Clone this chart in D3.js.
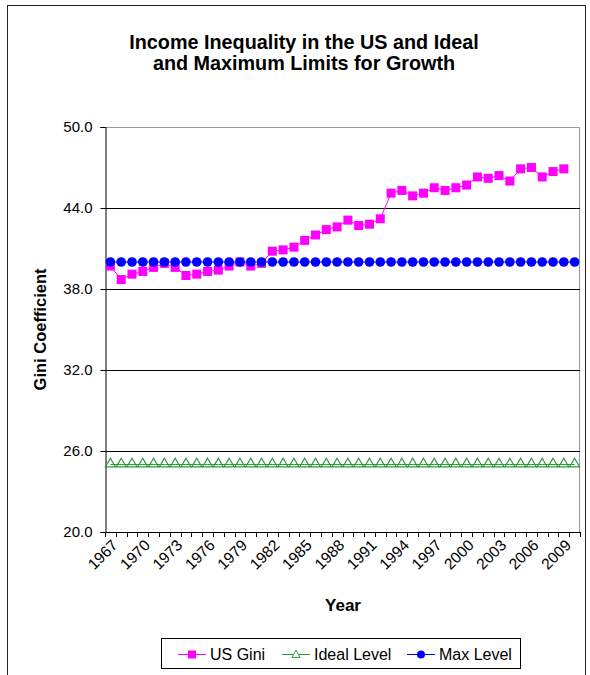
<!DOCTYPE html>
<html>
<head>
<meta charset="utf-8">
<script src="https://cdn.jsdelivr.net/npm/d3@7/dist/d3.min.js"></script>
<style>
  html, body { margin: 0; padding: 0; background: #fff; }
  svg { display: block; font-family: "Liberation Sans", Arial, sans-serif; }
</style>
</head>
<body>
<svg id="chart" width="590" height="675"></svg>
<script>
// Years on the category axis
const years = d3.range(1967, 2011);
// Household Gini index (x100); no value for the final year
const usGini = [
  39.7, 38.7, 39.1, 39.3, 39.6, 39.9, 39.6, 39.0, 39.1, 39.3,
  39.4, 39.7, 40.0, 39.7, 39.9, 40.8, 40.9, 41.1, 41.6, 42.0,
  42.4, 42.6, 43.1, 42.7, 42.8, 43.2, 45.1, 45.3, 44.9, 45.1,
  45.5, 45.3, 45.5, 45.7, 46.3, 46.2, 46.4, 46.0, 46.9, 47.0,
  46.3, 46.7, 46.9, null
];
const idealLevel = years.map(() => 25);
const maxLevel = years.map(() => 40);
const yTicks = [20, 26, 32, 38, 44, 50];
const labelYears = years.filter((y, i) => i % 3 === 0);

const svg = d3.select("#chart");
const plotL = 105, plotR = 580, plotT = 127, plotB = 532;

// Chart area border
svg.append("rect")
  .attr("x", 7.5).attr("y", 5.5).attr("width", 578).attr("height", 690)
  .attr("fill", "none").attr("stroke", "#222").attr("stroke-width", 1);

// Title
const title = svg.append("text")
  .attr("text-anchor", "middle").attr("font-weight", "bold")
  .attr("font-size", 19.8).attr("fill", "#000");
title.append("tspan").attr("x", 304).attr("y", 49).text("Income Inequality in the US and Ideal");
title.append("tspan").attr("x", 304).attr("y", 70).text("and Maximum Limits for Growth");

const x = d3.scaleBand().domain(years).range([plotL, plotR]).padding(0);
const y = d3.scaleLinear().domain([20, 50]).range([plotB, plotT]);
const cx = d => x(d) + x.bandwidth() / 2;

// Plot area border (top and right)
svg.append("path")
  .attr("d", `M${plotL},${plotT + 0.5}H${plotR - 0.5}V${plotB}`)
  .attr("fill", "none").attr("stroke", "#999").attr("stroke-width", 1);

// Horizontal gridlines
svg.append("g").selectAll("line")
  .data(yTicks.filter(t => t !== 20 && t !== 50))
  .join("line")
  .attr("x1", plotL).attr("x2", plotR)
  .attr("y1", d => Math.round(y(d)) + 0.5).attr("y2", d => Math.round(y(d)) + 0.5)
  .attr("stroke", "#000").attr("stroke-width", 1);

// Y axis
const yAxis = svg.append("g")
  .attr("transform", `translate(${plotL + 0.5},0)`)
  .call(d3.axisLeft(y).tickValues(yTicks).tickFormat(d3.format(".1f")).tickSize(5).tickPadding(8));
yAxis.select(".domain").attr("stroke", "#000");
yAxis.selectAll("text").attr("font-size", 15).attr("fill", "#000")
  .attr("font-family", "Liberation Sans, Arial, sans-serif");

// X axis line and category boundary ticks
const xg = svg.append("g");
xg.append("line").attr("x1", plotL).attr("x2", plotR)
  .attr("y1", plotB + 0.5).attr("y2", plotB + 0.5).attr("stroke", "#000");
xg.selectAll("line.tick")
  .data(years.concat([null]))
  .join("line").attr("class", "tick")
  .attr("x1", (d, i) => Math.round(plotL + i * x.step()) + 0.5)
  .attr("x2", (d, i) => Math.round(plotL + i * x.step()) + 0.5)
  .attr("y1", plotB).attr("y2", plotB + 5)
  .attr("stroke", "#000");
xg.selectAll("text.lbl")
  .data(labelYears)
  .join("text").attr("class", "lbl")
  .attr("transform", d => `translate(${cx(d)},${plotB + 6}) rotate(-45)`)
  .attr("text-anchor", "end").attr("dy", "0.75em")
  .attr("font-size", 15.5).attr("fill", "#000")
  .text(d => d);

// Axis titles
svg.append("text").attr("x", 343).attr("y", 611)
  .attr("text-anchor", "middle").attr("font-weight", "bold").attr("font-size", 17)
  .text("Year");
svg.append("text")
  .attr("transform", `translate(46,${(plotT + plotB) / 2}) rotate(-90)`)
  .attr("text-anchor", "middle").attr("font-weight", "bold").attr("font-size", 16.5)
  .text("Gini Coefficient");

// Series
const pink = "#FF00FF", green = "#2E9B3A", blue = "#0000FF";
const lineGen = vals => d3.line()
  .defined(d => d[1] != null)
  .x(d => cx(d[0])).y(d => y(d[1]))(years.map((yr, i) => [yr, vals[i]]));

// Ideal level
svg.append("path").attr("d", lineGen(idealLevel))
  .attr("fill", "none").attr("stroke", green).attr("stroke-width", 1);
const tri = d3.symbol().type(d3.symbolTriangle).size(44);
svg.append("g").selectAll("path")
  .data(years.map((yr, i) => [yr, idealLevel[i]]))
  .join("path")
  .attr("d", tri)
  .attr("transform", d => `translate(${cx(d[0])},${y(d[1]) - 0.5})`)
  .attr("fill", "none").attr("stroke", green).attr("stroke-width", 1.2);

// US Gini
svg.append("path").attr("d", lineGen(usGini))
  .attr("fill", "none").attr("stroke", pink).attr("stroke-width", 1);
svg.append("g").selectAll("rect")
  .data(years.map((yr, i) => [yr, usGini[i]]).filter(d => d[1] != null))
  .join("rect")
  .attr("x", d => cx(d[0]) - 4.5).attr("y", d => y(d[1]) - 4.5)
  .attr("width", 9).attr("height", 9)
  .attr("fill", pink);

// Max level
svg.append("path").attr("d", lineGen(maxLevel))
  .attr("fill", "none").attr("stroke", blue).attr("stroke-width", 1);
svg.append("g").selectAll("circle")
  .data(years.map((yr, i) => [yr, maxLevel[i]]))
  .join("circle")
  .attr("cx", d => cx(d[0])).attr("cy", d => y(d[1]))
  .attr("r", 4.8).attr("fill", blue);

// Legend
const lg = svg.append("g");
lg.append("rect").attr("x", 161.5).attr("y", 638.5).attr("width", 359).attr("height", 30)
  .attr("fill", "#fff").attr("stroke", "#000");
const items = [
  { name: "US Gini", color: pink, x0: 178, shape: "square" },
  { name: "Ideal Level", color: green, x0: 282, shape: "triangle" },
  { name: "Max Level", color: blue, x0: 407, shape: "circle" }
];
const ly = 654;
items.forEach(it => {
  lg.append("line").attr("x1", it.x0).attr("x2", it.x0 + 28)
    .attr("y1", ly + 0.5).attr("y2", ly + 0.5).attr("stroke", it.color);
  const mx = it.x0 + 14;
  if (it.shape === "square") {
    lg.append("rect").attr("x", mx - 4).attr("y", ly - 3.5).attr("width", 8).attr("height", 8).attr("fill", it.color);
  } else if (it.shape === "triangle") {
    lg.append("path").attr("d", d3.symbol().type(d3.symbolTriangle).size(30))
      .attr("transform", `translate(${mx},${ly + 1})`)
      .attr("fill", "#fff").attr("stroke", it.color);
  } else {
    lg.append("circle").attr("cx", mx).attr("cy", ly + 0.5).attr("r", 4).attr("fill", it.color);
  }
  lg.append("text").attr("x", it.x0 + 32).attr("y", ly + 6)
    .attr("font-size", 16).attr("fill", "#000").text(it.name);
});
</script>
</body>
</html>
